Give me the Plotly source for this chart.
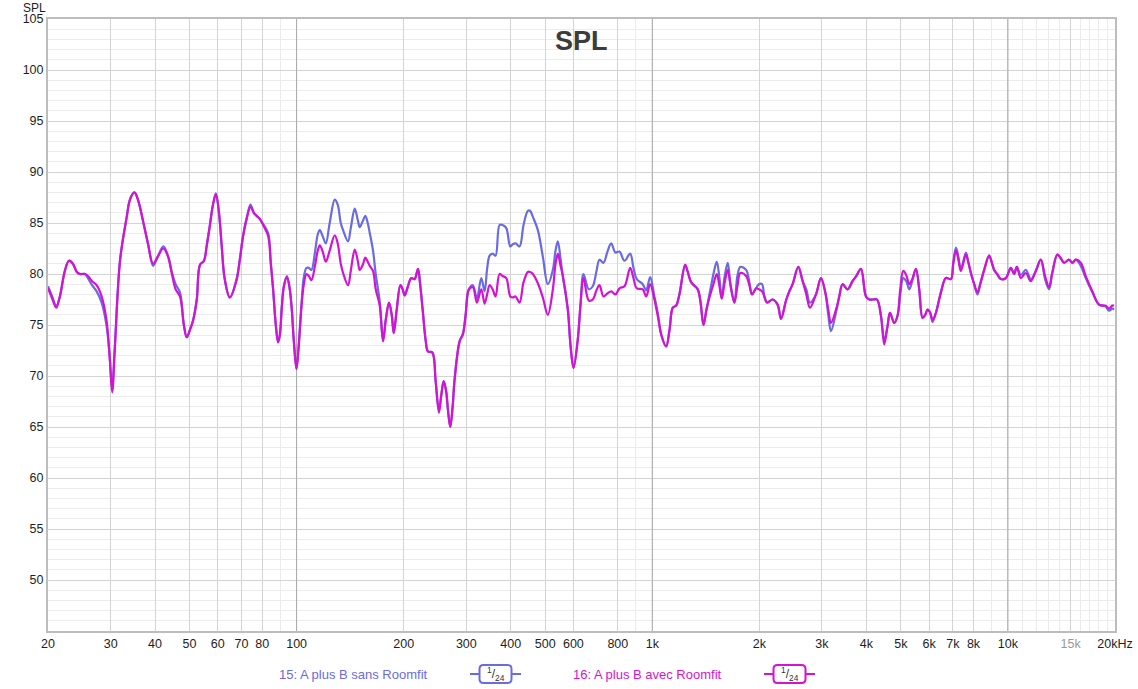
import math
import plotly.graph_objects as go

# frequency points (Hz)
freq = [
    20.0, 20.5, 21.1, 21.6, 22.3, 22.9, 23.5, 24.1, 24.6, 25.4,
    25.9, 26.6, 27.4, 28.3, 29.2, 29.8, 30.3, 30.8, 31.9, 33.3,
    34.0, 35.0, 35.8, 37.0, 38.2, 39.5, 40.7, 42.2, 43.5, 44.6,
    45.7, 47.0, 48.2, 49.1, 50.1, 51.2, 52.4, 53.5, 54.9, 55.9,
    57.0, 58.2, 59.3, 60.5, 61.5, 62.8, 64.9, 67.8, 69.3, 70.7,
    72.5, 74.2, 75.8, 77.2, 78.8, 80.5, 83.2, 84.6, 85.9, 87.4,
    88.7, 89.7, 90.9, 92.1, 93.9, 95.4, 96.8, 98.2, 99.9, 101.4,
    103.2, 104.8, 106.6, 108.2, 110.1, 112.5, 114.7, 116.2, 118.4, 120.8,
    123.9, 128.0, 130.5, 133.1, 135.1, 139.5, 142.0, 145.7, 148.6, 150.5,
    153.5, 156.0, 158.5, 160.6, 164.0, 166.9, 171.3, 175.0, 178.1, 181.9,
    185.1, 187.6, 191.2, 195.8, 198.7, 201.3, 205.2, 210.2, 214.7, 219.4,
    222.5, 226.6, 230.6, 234.1, 240.8, 246.0, 251.3, 254.9, 259.1, 263.3,
    266.7, 270.5, 274.6, 278.2, 287.3, 293.5, 298.7, 305.1, 313.1, 321.3,
    330.6, 337.8, 343.3, 348.9, 355.7, 362.6, 372.1, 379.4, 388.6, 398.8,
    404.8, 412.7, 423.5, 434.6, 446.9, 453.3, 461.6, 476.8, 492.4, 508.6,
    525.4, 534.6, 542.6, 552.2, 560.5, 578.9, 589.1, 600.6, 617.5, 628.4,
    640.7, 663.1, 680.5, 696.9, 710.6, 729.2, 748.3, 766.5, 788.1, 808.8,
    835.4, 866.7, 885.4, 904.5, 940.4, 961.3, 986.5, 1014, 1036, 1061,
    1094, 1118, 1142, 1167, 1192, 1237, 1256, 1286, 1342, 1366,
    1393, 1420, 1448, 1486, 1518, 1545, 1568, 1595, 1630, 1658,
    1702, 1735, 1769, 1836, 1875, 1908, 1958, 1994, 2035, 2066,
    2102, 2180, 2251, 2301, 2377, 2428, 2481, 2574, 2647, 2711,
    2776, 2886, 2981, 3065, 3125, 3180, 3285, 3356, 3428, 3541,
    3657, 3746, 3862, 3989, 4075, 4163, 4283, 4395, 4490, 4587,
    4659, 4790, 4893, 4980, 5077, 5177, 5278, 5382, 5512, 5631,
    5753, 5854, 5942, 6046, 6137, 6274, 6480, 6693, 6913, 7017,
    7140, 7247, 7375, 7618, 7732, 7868, 8038, 8211, 8356, 8575,
    8854, 9028, 9145, 9324, 9550, 9865, 10189, 10409, 10592, 10869,
    11227, 11595, 11977, 12370, 12718, 13051, 13307, 13771, 14104, 14382,
    14858, 15178, 15516, 16024, 16550, 17272, 18037, 18836, 19242, 19658,
    19871,
]

# 15: A plus B sans Roomfit (dB SPL)
spl_sans = [
    78.8, 77.9, 76.9, 77.8, 80.3, 81.3, 81.0, 80.2, 80.0, 80.0,
    79.6, 78.9, 78.3, 77.2, 75.0, 72.0, 68.7, 72.5, 81.4, 85.6,
    87.3, 88.0, 87.3, 85.2, 83.0, 80.8, 81.7, 82.7, 81.8, 80.2,
    79.0, 78.2, 75.0, 73.8, 74.5, 75.5, 77.5, 80.9, 81.3, 82.8,
    84.7, 86.8, 87.9, 86.0, 83.0, 79.5, 77.7, 79.5, 81.5, 83.7,
    85.6, 86.8, 86.0, 85.7, 85.4, 84.9, 84.0, 81.2, 78.5, 75.0,
    73.3, 74.0, 76.8, 78.8, 79.8, 78.8, 76.8, 73.5, 70.7, 73.0,
    77.0, 79.7, 80.6, 80.6, 80.4, 82.0, 83.9, 84.3, 83.7, 83.0,
    85.0, 87.3, 86.8, 85.0, 84.3, 83.2, 84.5, 86.4, 85.3, 84.6,
    85.2, 85.7, 85.0, 84.0, 82.3, 80.0, 77.3, 73.5, 75.5, 77.2,
    76.0, 74.2, 76.5, 78.9, 78.5, 77.9, 78.7, 79.6, 79.5, 80.5,
    79.0, 76.2, 73.5, 72.4, 72.3, 69.5, 66.6, 68.0, 69.5, 68.5,
    66.5, 65.0, 67.0, 69.7, 73.4, 74.1, 76.0, 78.5, 78.9, 77.6,
    79.6, 78.3, 80.5, 81.8, 82.0, 81.8, 84.8, 84.8, 84.5, 82.7,
    82.9, 83.0, 82.7, 84.8, 86.2, 86.2, 85.6, 84.3, 81.7, 79.0,
    80.4, 82.3, 83.2, 81.5, 79.8, 76.5, 73.0, 70.8, 73.6, 77.0,
    80.0, 78.5, 78.8, 80.3, 81.4, 81.1, 82.2, 83.0, 82.1, 82.2,
    81.3, 82.0, 80.6, 79.5, 79.0, 78.4, 79.7, 77.8, 76.2, 74.0,
    72.9, 74.5, 76.7, 76.9, 78.0, 80.9, 80.3, 79.2, 78.5, 77.3,
    75.0, 76.5, 78.0, 80.0, 81.2, 79.6, 77.6, 79.6, 81.1, 79.0,
    77.2, 79.8, 80.7, 80.4, 79.2, 78.0, 78.6, 79.0, 79.0, 77.8,
    77.2, 77.5, 77.0, 75.6, 77.4, 78.3, 79.0, 80.7, 79.3, 78.5,
    77.2, 78.0, 79.6, 78.2, 76.0, 74.4, 76.2, 77.8, 79.0, 78.5,
    79.3, 79.8, 80.5, 77.8, 77.5, 77.5, 77.5, 75.9, 73.5, 74.9,
    76.2, 75.2, 75.9, 78.0, 79.6, 79.3, 78.5, 79.3, 80.5, 78.5,
    75.7, 76.0, 76.5, 76.2, 75.3, 76.2, 78.2, 79.6, 79.5, 81.0,
    82.6, 81.8, 80.5, 82.1, 81.2, 80.1, 79.0, 78.0, 79.0, 80.4,
    81.8, 81.0, 80.4, 80.0, 79.5, 79.6, 80.6, 80.0, 80.7, 79.9,
    80.4, 79.5, 80.3, 81.4, 79.5, 78.5, 80.0, 81.9, 81.5, 81.1,
    81.4, 81.1, 81.4, 80.8, 79.6, 78.2, 77.0, 76.8, 76.4, 76.6,
    76.5,
]

# 16: A plus B avec Roomfit (dB SPL)
spl_avec = [
    78.6, 77.7, 76.7, 77.8, 80.3, 81.3, 81.0, 80.2, 80.0, 80.0,
    79.8, 79.3, 78.9, 77.8, 75.5, 72.0, 68.4, 72.5, 81.4, 85.6,
    87.3, 88.0, 87.3, 85.2, 83.0, 81.0, 81.7, 82.5, 81.7, 80.0,
    78.5, 77.8, 75.0, 73.8, 74.5, 75.5, 77.5, 80.9, 81.3, 82.8,
    84.7, 86.8, 87.8, 86.0, 83.0, 79.5, 77.7, 79.4, 81.5, 83.7,
    85.5, 86.6, 86.0, 85.7, 85.4, 84.8, 83.7, 81.0, 78.5, 75.0,
    73.3, 74.0, 76.8, 78.8, 79.7, 78.8, 76.8, 73.5, 70.7, 73.0,
    76.8, 79.0, 80.0, 79.8, 79.4, 80.7, 82.3, 82.8, 82.2, 81.2,
    82.3, 83.8, 83.0, 81.0, 80.1, 78.9, 80.3, 82.4, 81.3, 80.4,
    80.9, 81.6, 81.2, 80.8, 80.3, 78.5, 76.9, 73.4, 75.5, 77.2,
    76.0, 74.2, 76.5, 78.9, 78.5, 77.9, 78.7, 79.6, 79.5, 80.5,
    79.0, 76.2, 73.5, 72.4, 72.3, 69.5, 66.4, 68.0, 69.5, 68.5,
    66.5, 65.0, 67.0, 69.7, 73.4, 74.1, 76.0, 78.5, 78.7, 77.2,
    78.5, 77.1, 78.0, 78.9, 78.5, 77.8, 80.0, 79.8, 79.6, 77.8,
    77.7, 77.8, 77.2, 79.2, 80.2, 80.2, 80.0, 79.1, 77.7, 76.0,
    78.5, 81.0, 82.0, 80.8, 79.8, 76.5, 73.0, 70.8, 73.6, 77.0,
    79.6, 77.4, 77.5, 78.4, 78.9, 77.8, 78.1, 78.3, 78.0, 78.6,
    78.8, 80.6, 79.6, 78.6, 78.5, 77.8, 79.0, 77.5, 75.9, 74.0,
    72.9, 74.5, 76.7, 76.9, 78.0, 80.9, 80.3, 79.2, 78.5, 77.3,
    75.0, 76.5, 77.7, 79.0, 80.0, 78.8, 77.6, 79.0, 80.4, 79.0,
    77.2, 78.8, 80.1, 79.8, 78.9, 78.0, 78.6, 78.5, 78.3, 77.8,
    77.2, 77.5, 77.0, 75.6, 77.4, 78.3, 79.0, 80.7, 79.3, 78.0,
    76.7, 78.0, 79.6, 78.2, 76.5, 75.2, 76.5, 77.8, 79.0, 78.5,
    79.3, 79.8, 80.5, 77.8, 77.5, 77.5, 77.5, 75.9, 73.1, 74.9,
    76.2, 75.2, 75.9, 78.5, 80.3, 79.9, 79.0, 79.5, 80.5, 78.5,
    75.7, 76.0, 76.5, 76.2, 75.5, 76.2, 78.2, 79.6, 79.5, 81.0,
    82.3, 81.5, 80.3, 81.9, 81.2, 80.1, 79.0, 78.2, 79.0, 80.4,
    81.8, 81.0, 80.4, 80.0, 79.5, 79.6, 80.6, 80.0, 80.7, 79.6,
    80.1, 79.3, 80.3, 81.4, 79.8, 78.7, 80.0, 81.9, 81.5, 81.1,
    81.4, 81.1, 81.4, 81.1, 79.8, 78.3, 77.0, 76.9, 76.6, 76.9,
    76.9,
]

assert len(freq) == len(spl_sans) == len(spl_avec)

x_ticks = [20, 30, 40, 50, 60, 70, 80, 100, 200, 300, 400, 500, 600, 800,
           1000, 2000, 3000, 4000, 5000, 6000, 7000, 8000, 10000, 15000, 20000]
x_labels = ["20", "30", "40", "50", "60", "70", "80", "100", "200", "300",
            "400", "500", "600", "800", "1k", "2k", "3k", "4k", "5k", "6k",
            "7k", "8k", "10k", "<span style='color:#9a9a9a'>15k</span>", "20kHz"]
x_minor = [90, 900, 9000, 11000, 12000, 13000, 14000, 16000, 17000, 18000, 19000]
decades = [100, 1000, 10000]
y_ticks = list(range(50, 106, 5))
y_min, y_max = 45, 105

BLUE = "#6a6ae4"
MAGENTA = "#d412d4"
FONT = "Liberation Sans"

# plot area in pixels (figure is 1138 x 689)
PL, PR, PT, PB = 48, 1115, 19, 631


def px(x):
    return (x - PL) / (PR - PL)


def py(y):
    return (PB - y) / (PB - PT)


def rrect(x0, y0, x1, y1, r):
    pts = [
        f"M {px(x0 + r)},{py(y0)}", f"L {px(x1 - r)},{py(y0)}",
        f"Q {px(x1)},{py(y0)} {px(x1)},{py(y0 + r)}", f"L {px(x1)},{py(y1 - r)}",
        f"Q {px(x1)},{py(y1)} {px(x1 - r)},{py(y1)}", f"L {px(x0 + r)},{py(y1)}",
        f"Q {px(x0)},{py(y1)} {px(x0)},{py(y1 - r)}", f"L {px(x0)},{py(y0 + r)}",
        f"Q {px(x0)},{py(y0)} {px(x0 + r)},{py(y0)}", "Z",
    ]
    return " ".join(pts)


fig = go.Figure()

# darker decade grid lines
dx, dy = [], []
for d in decades:
    dx += [d, d, None]
    dy += [y_min, y_max, None]
fig.add_trace(go.Scatter(x=dx, y=dy, mode="lines", line=dict(color="#a9a9a9", width=1),
                         hoverinfo="skip", showlegend=False))

fig.add_trace(go.Scatter(x=freq, y=spl_sans, mode="lines", name="15: A plus B sans Roomfit",
                         line=dict(color=BLUE, width=2.2, shape="spline", smoothing=1.0)))
fig.add_trace(go.Scatter(x=freq, y=spl_avec, mode="lines", name="16: A plus B avec Roomfit",
                         line=dict(color=MAGENTA, width=2.2, shape="spline", smoothing=1.0)))

fig.update_xaxes(
    type="log", range=[math.log10(20), math.log10(20000)], automargin=False,
    tickmode="array", tickvals=x_ticks, ticktext=x_labels,
    showgrid=True, gridcolor="#d4d4d4", gridwidth=1,
    minor=dict(tickmode="array", tickvals=x_minor, showgrid=True, gridcolor="#ebebeb"),
    ticks="", showline=True, mirror=True, linecolor="#bdbdbd", linewidth=2,
    tickfont=dict(family=FONT, size=12.5, color="#1e1e1e"), zeroline=False,
)
fig.update_yaxes(
    range=[y_min, y_max], tickmode="array", tickvals=y_ticks, automargin=False,
    showgrid=True, gridcolor="#d4d4d4", gridwidth=1,
    minor=dict(dtick=1, showgrid=True, gridcolor="#ececec"),
    ticks="", showline=True, mirror=True, linecolor="#bdbdbd", linewidth=2,
    tickfont=dict(family=FONT, size=12.5, color="#1e1e1e"), zeroline=False,
)

annotations = [
    dict(x=px(581), y=py(41), xref="paper", yref="paper", text="<b>SPL</b>", showarrow=False,
         font=dict(family=FONT, size=27, color="#3c3c3c"), xanchor="center", yanchor="middle"),
    dict(x=px(34), y=py(8), xref="paper", yref="paper", text="SPL", showarrow=False,
         font=dict(family=FONT, size=12, color="#1e1e1e"), xanchor="center", yanchor="middle"),
    dict(x=px(353), y=py(674), xref="paper", yref="paper", text="15: A plus B sans Roomfit",
         showarrow=False, font=dict(family=FONT, size=13, color=BLUE),
         xanchor="center", yanchor="middle"),
    dict(x=px(647), y=py(674), xref="paper", yref="paper", text="16: A plus B avec Roomfit",
         showarrow=False, font=dict(family=FONT, size=13, color=MAGENTA),
         xanchor="center", yanchor="middle"),
]

shapes = []
for cx, color in [(495.5, BLUE), (789.5, MAGENTA)]:
    shapes.append(dict(type="line", xref="paper", yref="paper", layer="above",
                       x0=px(cx - 25.5), x1=px(cx + 25.5), y0=py(674), y1=py(674),
                       line=dict(color=color, width=2)))
    shapes.append(dict(type="path", xref="paper", yref="paper", layer="above",
                       path=rrect(cx - 16, 665, cx + 16, 683, 4),
                       fillcolor="white", line=dict(color=color, width=2)))
    annotations.append(dict(x=px(cx), y=py(674), xref="paper", yref="paper",
                            text="<sup>1</sup>/<sub>24</sub>", showarrow=False,
                            font=dict(family=FONT, size=12, color="#333333"),
                            xanchor="center", yanchor="middle"))

fig.update_layout(
    width=1138, height=689, autosize=False,
    margin=dict(l=PL, r=1138 - PR, t=PT, b=689 - PB),
    paper_bgcolor="white", plot_bgcolor="white",
    showlegend=False, annotations=annotations, shapes=shapes,
    font=dict(family=FONT),
)

# drop the browser's default page margin so the figure sits at the page corner
page_fix = ("document.documentElement.style.margin='0px';"
            "document.body.style.margin='0px';"
            "document.body.style.overflow='hidden';")
fig.write_html("out.html", config={"displayModeBar": False}, post_script=page_fix)
